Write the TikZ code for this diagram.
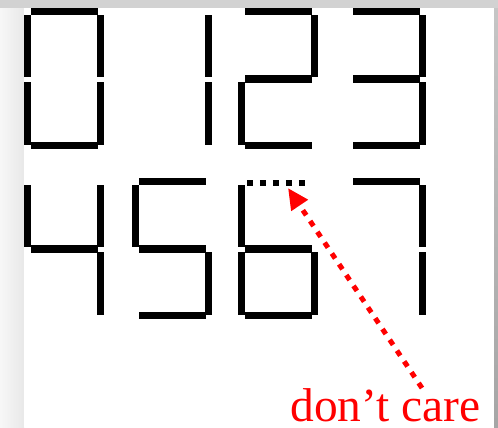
\documentclass[tikz,border=0pt]{standalone}
\usepackage{fontspec}
\setmainfont{Liberation Serif}
\usetikzlibrary{arrows.meta,positioning,calc}

\begin{document}
\begin{tikzpicture}[x=0.02cm,y=-0.02cm,
  seg/.style={fill=black},
  dcseg/.style={line width=0.12cm,dash pattern=on 0.13cm off 0.13cm},
  carearrow/.style={red,line width=0.1cm,dash pattern=on 0.12cm off 0.14cm,-{Triangle[length=0.42cm,width=0.38cm]}},
  redtxt/.style={text=red,inner sep=0pt,text depth=0pt,font=\fontsize{27}{29}\selectfont}]
  \fill[gray!35] (0,0) rectangle (498,8);
  \shade[left color=gray!6,right color=gray!18] (0,8) rectangle (24,427);
  \shade[top color=gray!45,bottom color=gray!70] (494,8) rectangle (498,427);
  \fill[white] (24,8) rectangle (494,427);
  \useasboundingbox (0,0) rectangle (498,427);
  \foreach \x/\y/\segs in {24/8/{a,b,c,d,e,f},132/8/{b,c},238/8/{a,b,g,e,d},346/8/{a,b,g,c,d},
      24/178/{f,g,b,c},132/178/{a,f,g,c,d},238/178/{f,g,e,c,d},346/178/{a,b,c}}
    \foreach \s in \segs {
      \if\s a\fill[seg] (\x+7,\y) rectangle ++(67,7);\fi
      \if\s b\fill[seg] (\x+73,\y+7) rectangle ++(7,62);\fi
      \if\s c\fill[seg] (\x+73,\y+74) rectangle ++(7,63);\fi
      \if\s d\fill[seg] (\x+7,\y+134) rectangle ++(67,7);\fi
      \if\s e\fill[seg] (\x,\y+74) rectangle ++(7,63);\fi
      \if\s f\fill[seg] (\x,\y+7) rectangle ++(7,62);\fi
      \if\s g\fill[seg] (\x+7,\y+67) rectangle ++(67,8);\fi
    }
  \draw[dcseg] (247,183) -- (306,183);
  \node[redtxt,anchor=base west] (dontcare) at (290,421) {don’t care};
  \coordinate (blank) at (288,188);
  \coordinate (tail) at (422,388);
  \draw[carearrow] (tail) -- (blank);
\end{tikzpicture}
\end{document}
